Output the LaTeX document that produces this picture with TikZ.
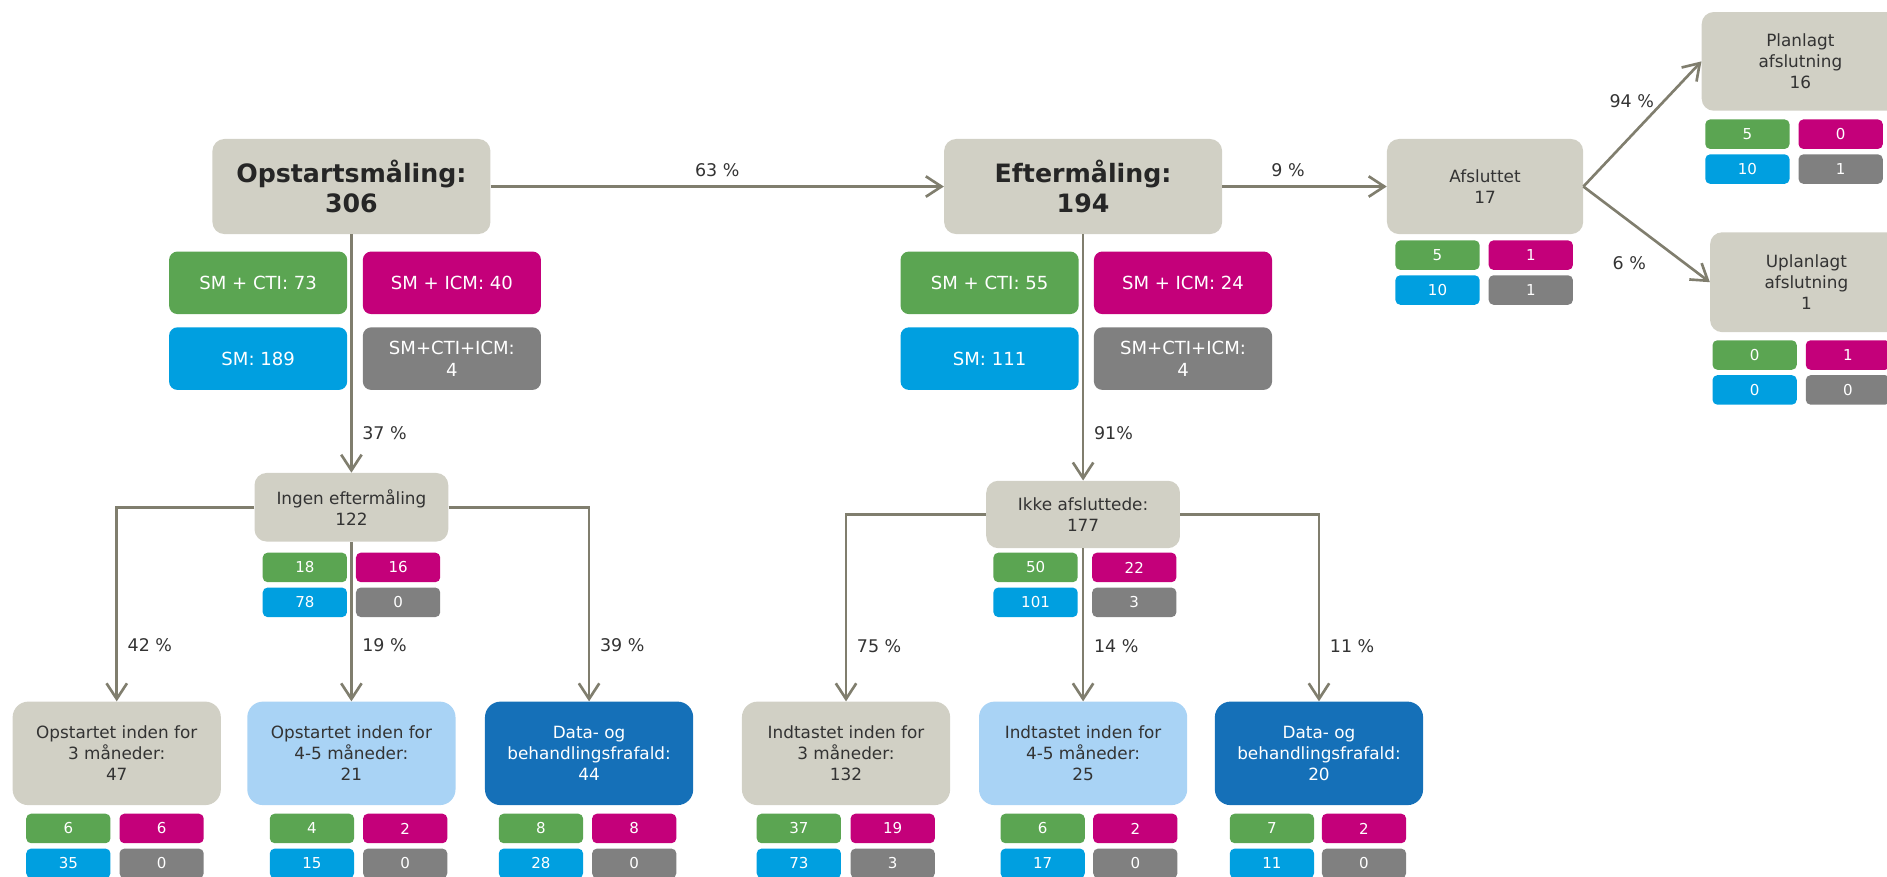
\documentclass[tikz,border=0pt]{standalone}
\usepackage{fontspec}
\setmainfont{DejaVu Sans}
\usetikzlibrary{arrows.meta}
\definecolor{beige}{RGB}{209,208,197}
\definecolor{sgroen}{RGB}{91,165,82}
\definecolor{smagenta}{RGB}{196,0,122}
\definecolor{sblaa}{RGB}{0,159,224}
\definecolor{sgraa}{RGB}{128,128,128}
\definecolor{lysblaa}{RGB}{169,211,245}
\definecolor{moerkblaa}{RGB}{21,112,184}
\definecolor{streg}{RGB}{128,126,110}
\definecolor{tekst}{RGB}{51,51,51}
\begin{document}
\begin{tikzpicture}[x=1pt, y=-1pt, >={Straight Barb[length=13pt,width=17pt]},
  boks/.style={fill=beige, rounded corners=10pt, inner sep=0pt, align=center, text=tekst, font=\fontsize{14}{17.5}\selectfont},
  hoved/.style={boks, minimum width=231pt, minimum height=79pt, text=black!85, font=\fontsize{21}{25}\selectfont\bfseries},
  felt/.style={rounded corners=7pt, inner sep=0pt, align=center, text=white, minimum width=148pt, minimum height=52pt, font=\fontsize{15}{18}\selectfont},
  slut/.style={boks, rounded corners=13pt, minimum width=173pt, minimum height=86pt},
  tal/.style={rounded corners=4pt, inner sep=0pt, text=white, minimum width=70pt, minimum height=24.5pt, font=\fontsize{12.5}{14}\selectfont},
  pil/.style={->, draw=streg, line width=2.2pt},
  pct/.style={inner sep=3pt, text=tekst, font=\fontsize{14.5}{17}\selectfont}]
\useasboundingbox (0,0) rectangle (1568,728);
\clip (0,0) rectangle (1568,728);

% maalinger
\node[hoved] (start) at (292,155) {Opstartsmåling:\\306};
\node[hoved] (eft) at (900,155) {Eftermåling:\\194};
\node[boks, minimum width=163pt, minimum height=79pt] (afs) at (1234,155) {Afsluttet\\17};
\node[boks, minimum width=164pt, minimum height=82pt] (plan) at (1496,51) {Planlagt\\afslutning\\16};
\node[boks, minimum width=160pt, minimum height=83pt] (uplan) at (1501,234.5) {Uplanlagt\\afslutning\\1};
\node[boks, minimum width=161pt, minimum height=57pt] (ingen) at (292,421.5) {Ingen eftermåling\\122};
\node[boks, minimum width=161pt, minimum height=56pt] (ikke) at (900,427.5) {Ikke afsluttede:\\177};

% fordeling
\node[felt, fill=sgroen] (s-cti) at (214.5,235) {SM + CTI: 73};
\node[felt, fill=smagenta] (s-icm) at (375.5,235) {SM + ICM: 40};
\node[felt, fill=sblaa] (s-sm) at (214.5,298) {SM: 189};
\node[felt, fill=sgraa] (s-alle) at (375.5,298) {SM+CTI+ICM:\\4};
\node[felt, fill=sgroen] (e-cti) at (822.3,235) {SM + CTI: 55};
\node[felt, fill=smagenta] (e-icm) at (983,235) {SM + ICM: 24};
\node[felt, fill=sblaa] (e-sm) at (822.3,298) {SM: 111};
\node[felt, fill=sgraa] (e-alle) at (983,298) {SM+CTI+ICM:\\4};

% udfald
\node[slut] (b1) at (97,626) {Opstartet inden for\\3 måneder:\\47};
\node[slut, fill=lysblaa] (b2) at (292,626) {Opstartet inden for\\4-5 måneder:\\21};
\node[slut, fill=moerkblaa, text=white] (b3) at (489.5,626) {Data- og\\behandlingsfrafald:\\44};
\node[slut] (b4) at (703,626) {Indtastet inden for\\3 måneder:\\132};
\node[slut, fill=lysblaa] (b5) at (900,626) {Indtastet inden for\\4-5 måneder:\\25};
\node[slut, fill=moerkblaa, text=white] (b6) at (1096,626) {Data- og\\behandlingsfrafald:\\20};

% smaa tal
\foreach \n/\x/\y/\dx/\a/\b/\c/\d in {
  afs/1194.5/212/77.5/5/1/10/1,
  plan/1452/111.5/77.5/5/0/10/1,
  uplan/1458/295/77.5/0/1/0/0,
  ingen/253.3/471.5/77.5/18/16/78/0,
  ikke/860.5/471.5/82/50/22/101/3,
  b1/56.8/688.4/77.5/6/6/35/0,
  b2/259.2/688.4/77.5/4/2/15/0,
  b3/449.5/688.4/77.5/8/8/28/0,
  b4/663.8/688.4/78/37/19/73/3,
  b5/866.4/688.4/77/6/2/17/0,
  b6/1056.9/688.4/76.5/7/2/11/0}
{
  \node[tal, fill=sgroen] (\n-g) at (\x,\y) {\a};
  \node[tal, fill=smagenta] (\n-m) at ({\x+\dx},\y) {\b};
  \node[tal, fill=sblaa] (\n-b) at (\x,{\y+29}) {\c};
  \node[tal, fill=sgraa] (\n-k) at ({\x+\dx},{\y+29}) {\d};
}

% pile
\draw[pil] (start) -- node[pct, above=4pt] {63 \%} (eft);
\draw[pil] (eft) -- node[pct, above=4pt, pos=0.4] {9 \%} (afs);
\draw[pil] (afs.east) -- node[pct, pos=0.68, left=4pt] {94 \%} (plan.west);
\draw[pil] (afs.east) -- node[pct, pos=0.8, left=28pt] {6 \%} (uplan.west);
\draw[pil] (start) -- node[pct, pos=0.835, right=5pt] {37 \%} (ingen);
\draw[pil] (eft) -- node[pct, pos=0.807, right=5pt] {91\%} (ikke);
\draw[pil] (ingen.west) -| node[pct, pos=0.855, right=5pt] {42 \%} (b1.north);
\draw[pil] (ingen) -- node[pct, pos=0.65, right=5pt] {19 \%} (b2);
\draw[pil] (ingen.east) -| node[pct, pos=0.855, right=5pt] {39 \%} (b3.north);
\draw[pil] (ikke.west) -| node[pct, pos=0.852, right=5pt] {75 \%} (b4.north);
\draw[pil] (ikke) -- node[pct, pos=0.64, right=5pt] {14 \%} (b5);
\draw[pil] (ikke.east) -| node[pct, pos=0.852, right=5pt] {11 \%} (b6.north);
\end{tikzpicture}
\end{document}
